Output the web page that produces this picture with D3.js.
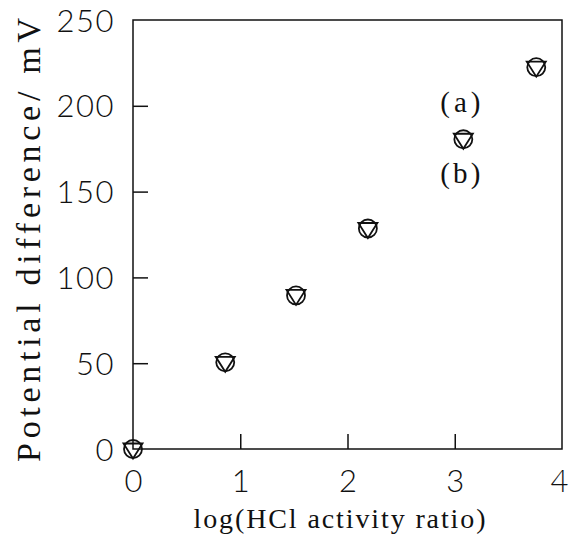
<!DOCTYPE html>
<html>
<head>
<meta charset="utf-8">
<script src="https://cdn.jsdelivr.net/npm/d3@7"></script>
<style>
  html, body { margin: 0; padding: 0; background: #fff; }
  svg { display: block; }
</style>
</head>
<body>
<svg id="chart" width="569" height="538"></svg>
<script>
// Measured cell potential vs. log of HCl activity ratio
const logRatio = [0, 0.86, 1.52, 2.19, 3.08, 3.76];
const seriesA = [0, 50.5, 89.5, 128.5, 180.5, 222.5];   // (a) circles
const seriesB = [0, 50.5, 89.5, 128.5, 180.5, 222.5];   // (b) triangles
const xTicks = [0, 1, 2, 3, 4];
const yTicks = [0, 50, 100, 150, 200, 250];

const svg = d3.select("#chart");
const plotL = 133, plotR = 562, plotT = 20, plotB = 449;

const x = d3.scaleLinear().domain([0, 4]).range([plotL, plotR]);
const y = d3.scaleLinear().domain([0, 250]).range([plotB, plotT]);

const ink = "#111";
const tickFont = "Lato, 'Liberation Sans', Arial, sans-serif";
const titleFont = "'Liberation Serif', 'DejaVu Serif', serif";

// frame
svg.append("rect")
  .attr("x", plotL).attr("y", plotT)
  .attr("width", plotR - plotL).attr("height", plotB - plotT)
  .attr("fill", "none").attr("stroke", ink).attr("stroke-width", 1.5);

// bottom axis: inward ticks
const xAxis = d3.axisBottom(x).tickValues(xTicks).tickSize(-15).tickPadding(0).tickFormat(d3.format("d"));
const gx = svg.append("g").attr("transform", `translate(0,${plotB})`).call(xAxis);
gx.select(".domain").remove();
gx.selectAll(".tick line").attr("stroke", ink).attr("stroke-width", 1.5)
  .filter(d => d === 0 || d === 4).remove();
gx.selectAll(".tick text")
  .attr("y", 43).attr("dy", null)
  .attr("font-family", tickFont).attr("font-size", 31).attr("font-weight", 300)
  .attr("fill", ink);
// last label sits against the right edge of the page
gx.selectAll(".tick text").filter(d => d === 4)
  .attr("text-anchor", "end").attr("x", 6);

// left axis: inward ticks
const yAxis = d3.axisLeft(y).tickValues(yTicks).tickSize(-15).tickPadding(0).tickFormat(d3.format("d"));
const gy = svg.append("g").attr("transform", `translate(${plotL},0)`).call(yAxis);
gy.select(".domain").remove();
gy.selectAll(".tick line").attr("stroke", ink).attr("stroke-width", 1.5)
  .filter(d => d === 0 || d === 250).remove();
gy.selectAll(".tick text")
  .attr("x", -18).attr("dy", "0.36em")
  .attr("font-family", tickFont).attr("font-size", 31).attr("font-weight", 300)
  .attr("fill", ink).attr("letter-spacing", 1.5);

// axis titles (evenly spaced serif lettering)
svg.append("text")
  .attr("x", (plotL + plotR) / 2 - 8).attr("y", 528)
  .attr("text-anchor", "middle")
  .attr("font-family", titleFont).attr("font-size", 28)
  .attr("textLength", 292).attr("lengthAdjust", "spacing")
  .attr("fill", ink)
  .text("log(HCl activity ratio)");

svg.append("text")
  .attr("transform", `translate(40,240) rotate(-90)`)
  .attr("text-anchor", "middle")
  .attr("font-family", titleFont).attr("font-size", 34)
  .attr("textLength", 444).attr("lengthAdjust", "spacing")
  .attr("fill", ink)
  .text("Potential difference/ mV");

// series (a): open circles
svg.append("g").selectAll("circle")
  .data(logRatio.map((v, i) => [v, seriesA[i]]))
  .join("circle")
  .attr("cx", d => x(d[0])).attr("cy", d => y(d[1]))
  .attr("r", 9)
  .attr("fill", "none").attr("stroke", ink).attr("stroke-width", 1.8);

// series (b): open down-pointing triangles
const tri = "M-9.5,-5.5L9.5,-5.5L0,9.5Z";
svg.append("g").selectAll("path")
  .data(logRatio.map((v, i) => [v, seriesB[i]]))
  .join("path")
  .attr("transform", d => `translate(${x(d[0])},${y(d[1])})`)
  .attr("d", tri)
  .attr("fill", "none").attr("stroke", ink).attr("stroke-width", 1.8)
  .attr("stroke-linejoin", "miter");

// series labels beside the point at log ratio 3.08
const labelPt = 4;
svg.append("text")
  .attr("x", x(logRatio[labelPt]) - 3).attr("y", y(seriesA[labelPt]) - 27)
  .attr("text-anchor", "middle")
  .attr("font-family", titleFont).attr("font-size", 29).attr("fill", ink)
  .attr("textLength", 40).attr("lengthAdjust", "spacing")
  .text("(a)");
svg.append("text")
  .attr("x", x(logRatio[labelPt]) - 3).attr("y", y(seriesB[labelPt]) + 44)
  .attr("text-anchor", "middle")
  .attr("font-family", titleFont).attr("font-size", 29).attr("fill", ink)
  .attr("textLength", 40).attr("lengthAdjust", "spacing")
  .text("(b)");
</script>
</body>
</html>
